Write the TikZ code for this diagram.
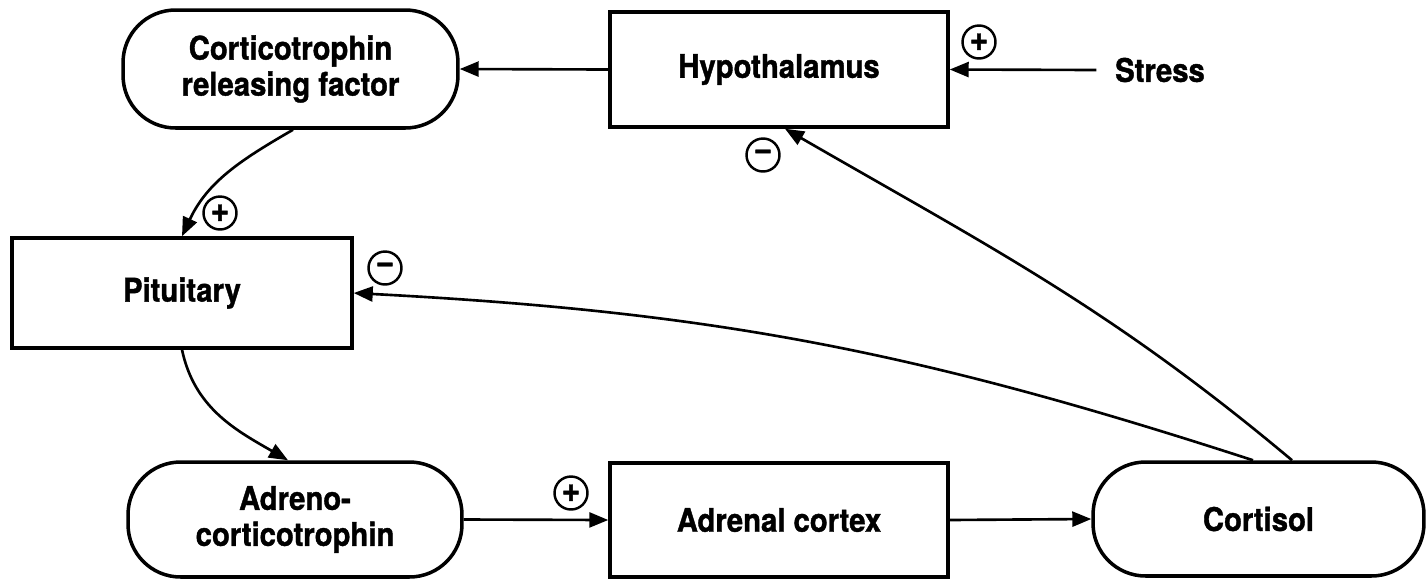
\documentclass[tikz,border=0pt]{standalone}
\usepackage{fontspec}
\newfontfamily\lab{texgyreheros-bold.otf}[FakeStretch=0.9, FakeBold=1.2]
\usetikzlibrary{arrows.meta}
\begin{document}
\begin{tikzpicture}[x=0.02cm,y=-0.02cm,
  lbl/.style={font=\lab\fontsize{18.5}{20.5}\selectfont, align=center},
  boxnode/.style={lbl, draw, line width=2pt, rectangle, inner sep=0pt},
  pillnode/.style={lbl, draw, line width=2pt, rectangle, rounded corners=1.05cm, inner sep=0pt},
  conn/.style={line width=1.5pt, -{Triangle[length=0.38cm,width=0.3cm]}},
  sign/.style={draw, circle, line width=1.4pt, minimum size=0.66cm, inner sep=0pt, font=\lab\fontsize{20}{20}\selectfont}]
\useasboundingbox (0,0) rectangle (1427,579);
\fill[white] (0,0) rectangle (1427,579);

\node[pillnode, minimum width=6.7cm, minimum height=2.36cm] (crf) at (290.5,69) {Corticotrophin\\releasing factor};
\node[boxnode, minimum width=6.76cm, minimum height=2.3cm] (hyp) at (779,69.5) {Hypothalamus};
\node[lbl, inner sep=2pt] (stress) at (1160,70) {Stress};
\node[boxnode, minimum width=6.8cm, minimum height=2.2cm] (pit) at (182,293) {Pituitary};
\node[pillnode, minimum width=6.68cm, minimum height=2.3cm] (acth) at (295,519.5) {Adreno-\\corticotrophin};
\node[boxnode, minimum width=6.76cm, minimum height=2.28cm] (ac) at (779,520) {Adrenal cortex};
\node[pillnode, minimum width=6.62cm, minimum height=2.28cm] (cort) at (1258.5,519) {Cortisol};

\node[sign] (s1) at (979,42) {+};
\node[sign] (s2) at (220,213) {+};
\node[sign] (s3) at (763,155) {−};
\node[sign] (s4) at (385,268) {−};
\node[sign] (s5) at (571,493) {+};

\draw[conn] (hyp.west) -- (crf.east);
\draw[conn] ([xshift=-0.3cm]stress.west) -- (hyp.east);
\draw[conn] ([xshift=0.05cm]crf.south) to[out=-150,in=65] (pit.north);
\draw[conn] (pit.south) to[out=-78,in=150] ([xshift=-0.14cm]acth.north);
\draw[conn] (acth.east) -- (ac.west);
\draw[conn] (ac.east) -- (cort.west);
\draw[conn] ([xshift=-0.11cm]cort.north) to[out=162,in=-3] (pit.east);
\draw[conn] ([xshift=0.67cm]cort.north) to[out=140,in=-30] ([xshift=0.12cm]hyp.south);
\end{tikzpicture}
\end{document}
